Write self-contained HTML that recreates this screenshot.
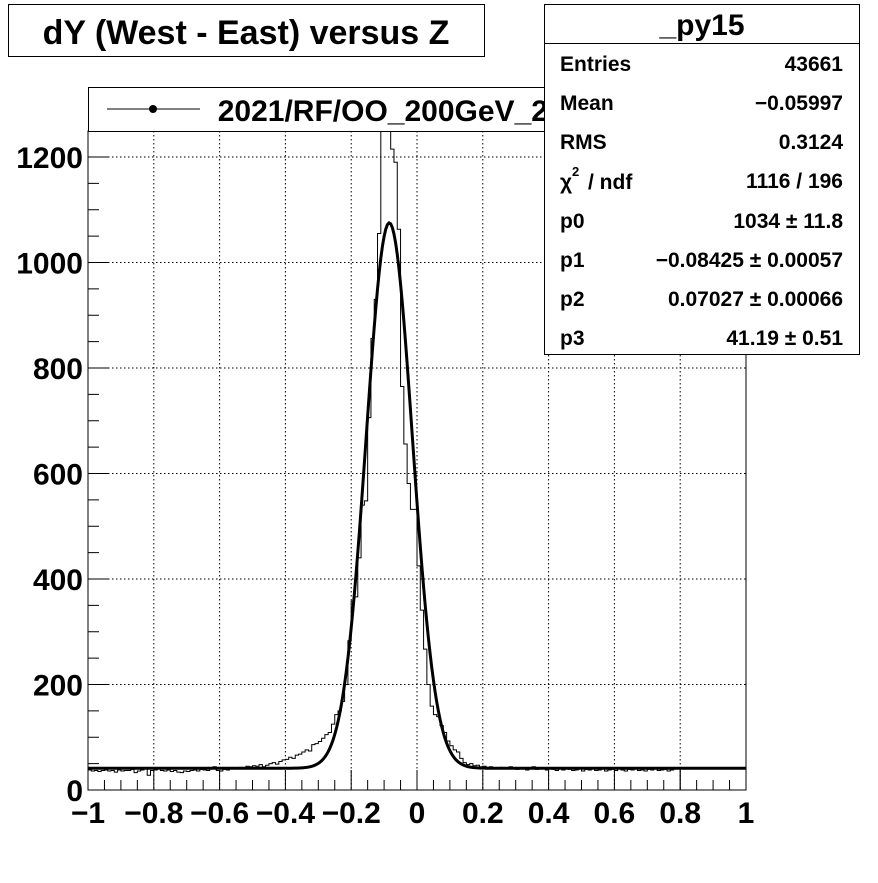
<!DOCTYPE html>
<html><head><meta charset="utf-8"><style>
body{margin:0;background:#fff;}
svg text{font-family:"Liberation Sans",sans-serif;font-weight:bold;fill:#000;}
</style></head><body>
<svg id="c" width="878" height="878" xmlns="http://www.w3.org/2000/svg">
<rect width="878" height="878" fill="#fff"/>
<g id="grid"></g>
<g id="plot"></g>
<g id="axes"></g>
<g>
<rect x="8.5" y="4.5" width="476" height="52" fill="#fff" stroke="#000"/>
<text x="246" y="44" font-size="34" text-anchor="middle">dY (West - East) versus Z</text>
</g>
<g>
<rect x="88.5" y="87.5" width="526" height="44" fill="#fff" stroke="#000"/>
<line x1="107" y1="109" x2="200" y2="109" stroke="#000"/>
<circle cx="153" cy="109" r="4" fill="#000"/>
<text x="598" y="121" font-size="30" text-anchor="end">2021/RF/OO_200GeV_2021</text>
</g>
<g font-size="21">
<rect x="544.5" y="4.5" width="315" height="350" fill="#fff" stroke="#000"/>
<line x1="544" y1="43.5" x2="860" y2="43.5" stroke="#000"/>
<text x="702" y="35" font-size="30" text-anchor="middle">_py15</text>
<text x="560" y="71">Entries</text><text x="843" y="71" text-anchor="end">43661</text>
<text x="560" y="110">Mean</text><text x="843" y="110" text-anchor="end">−0.05997</text>
<text x="560" y="149">RMS</text><text x="843" y="149" text-anchor="end">0.3124</text>
<text x="560" y="189">χ</text><text x="572" y="176" font-size="13">2</text><text x="588" y="189"> / ndf</text><text x="843" y="188" text-anchor="end">1116 / 196</text>
<text x="560" y="228">p0</text><text x="843" y="228" text-anchor="end">1034 ± 11.8</text>
<text x="560" y="267">p1</text><text x="843" y="267" text-anchor="end">−0.08425 ± 0.00057</text>
<text x="560" y="306">p2</text><text x="843" y="306" text-anchor="end">0.07027 ± 0.00066</text>
<text x="560" y="345">p3</text><text x="843" y="345" text-anchor="end">41.19 ± 0.51</text>
</g>
</svg>
<script>
const binLow = -1, binWidth = 0.01;
const counts = [
38,36,37,35,37,38,36,37,34,38,36,37,37,39,33,36,38,42,28,37,
38,40,37,36,38,35,37,34,33,36,35,37,38,36,39,38,37,40,44,37,
36,39,38,40,42,41,43,40,45,44,46,45,48,44,47,50,52,49,54,57,
58,62,60,66,68,72,76,74,86,88,92,98,105,109,125,143,150,168,200,283,
358,366,440,540,548,706,856,930,1055,1300,1300,1300,1215,1190,1063,765,656,581,532,532,
425,341,267,200,159,143,139,122,109,93,84,76,72,60,52,48,50,46,47,44,
45,43,44,42,41,43,40,42,44,41,39,42,40,38,41,44,39,40,42,38,
41,39,37,40,38,42,39,37,38,40,36,39,38,41,37,38,40,36,38,39,
37,40,38,36,39,38,41,37,38,36,39,38,40,37,38,39,36,38,40,41
];
const fitParams = [1034, -0.08425, 0.07027, 41.19];
const xTicks = [-1,-0.8,-0.6,-0.4,-0.2,0,0.2,0.4,0.6,0.8,1];
const xTickLabels = ["−1","−0.8","−0.6","−0.4","−0.2","0","0.2","0.4","0.6","0.8","1"];
const yTicks = [0,200,400,600,800,1000,1200];
const yTickLabels = ["0","200","400","600","800","1000","1200"];

const L=88,R=746,B=790,T=131,yMax=(B-T)/0.5275;
const sx=v=>L+(v+1)/2*(R-L);
const sy=v=>B-v/yMax*(B-T);
const NS="http://www.w3.org/2000/svg";
function mk(p,tag,a){const e=document.createElementNS(NS,tag);for(const k in a)e.setAttribute(k,a[k]);p.appendChild(e);return e;}
const grid=document.getElementById('grid'),plot=document.getElementById('plot'),axes=document.getElementById('axes');
xTicks.forEach(v=>{const l=mk(grid,'line',{x1:sx(v),x2:sx(v),y1:T,y2:B,stroke:'#000','stroke-dasharray':'1.5,2.5'});
});
yTicks.forEach(v=>{const l=mk(grid,'line',{x1:L,x2:R,y1:sy(v),y2:sy(v),stroke:'#000','stroke-dasharray':'1.5,2.5'});
});
// clip
const defs=mk(document.getElementById('c'),'defs',{});
const cp=mk(defs,'clipPath',{id:'cl'});mk(cp,'rect',{x:L,y:T,width:R-L,height:B-T});
plot.setAttribute('clip-path','url(#cl)');
let d='M'+sx(binLow)+','+sy(0);
counts.forEach((c,i)=>{const x0=sx(binLow+i*binWidth),x1=sx(binLow+(i+1)*binWidth);d+=' L'+x0+','+sy(c)+' L'+x1+','+sy(c);});
d+=' L'+sx(binLow+counts.length*binWidth)+','+sy(0);
const h=mk(plot,'path',{d:d,fill:'none',stroke:'#000','stroke-width':1});

let fd='';
for(let k=0;k<=400;k++){const x=-1+k*0.005;const [p0,p1,p2,p3]=fitParams;const y=p0*Math.exp(-0.5*Math.pow((x-p1)/p2,2))+p3;fd+=(k?' L':'M')+sx(x).toFixed(2)+','+sy(y).toFixed(2);}
const f=mk(plot,'path',{d:fd,fill:'none',stroke:'#000','stroke-width':3});

// frame
const fr=mk(axes,'rect',{x:L,y:T,width:R-L,height:B-T,fill:'none',stroke:'#000'});

for(let v=-1;v<=1.0001;v+=0.05){const maj=Math.abs(Math.round(v*5)-v*5)<1e-6;
 const t=mk(axes,'line',{x1:sx(v),x2:sx(v),y1:B,y2:B-(maj?20:10),stroke:'#000'});
 }
for(let v=0;v<=yMax;v+=50){const maj=v%200===0;
 const t=mk(axes,'line',{x1:L,x2:L+(maj?21:11),y1:sy(v),y2:sy(v),stroke:'#000'});
 }
xTicks.forEach((v,i)=>{const t=mk(axes,'text',{x:sx(v),y:823,'font-size':30,'text-anchor':'middle'});t.textContent=xTickLabels[i];
 });
yTicks.forEach((v,i)=>{const t=mk(axes,'text',{x:83,y:sy(v)+11,'font-size':30,'text-anchor':'end'});t.textContent=yTickLabels[i];
 });
</script>
</body></html>
